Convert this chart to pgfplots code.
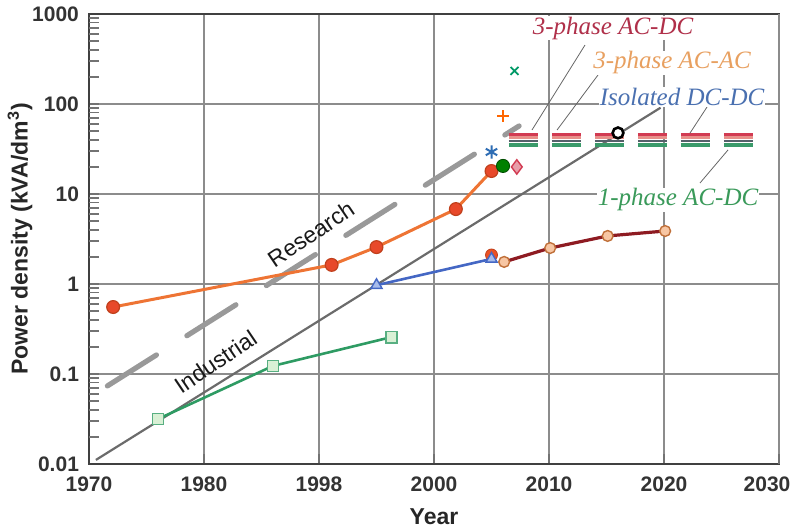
\documentclass[border=0pt]{standalone}
\usepackage{fontspec}
\setmainfont{Liberation Sans}
\newfontfamily\annfont{Liberation Serif}
\usepackage{pgfplots}
\pgfplotsset{compat=1.18}
\usetikzlibrary{calc}

\definecolor{resorange}{HTML}{EE7434}
\definecolor{resfill}{HTML}{E8492A}
\definecolor{resedge}{HTML}{C0401C}
\definecolor{grn}{HTML}{2E9B63}
\definecolor{grnfill}{HTML}{D9F0D5}
\definecolor{blu}{HTML}{4467C4}
\definecolor{blufill}{HTML}{A8BCEB}
\definecolor{dred}{HTML}{8E1B22}
\definecolor{peach}{HTML}{F7C6A3}
\definecolor{peachedge}{HTML}{C0703A}
\definecolor{labred}{HTML}{B0304A}
\definecolor{laborange}{HTML}{E8A060}
\definecolor{labblue}{HTML}{4A70B0}
\definecolor{labgreen}{HTML}{3A9A5A}
\definecolor{dashred}{HTML}{D23B52}
\definecolor{dashpink}{HTML}{E8908A}
\definecolor{dashgray}{HTML}{55606A}
\definecolor{dashgreen}{HTML}{3A9A6A}
\definecolor{astblue}{HTML}{2E6DB4}

\newcommand{\tl}[1]{\textbf{#1}}

\begin{document}
\begin{tikzpicture}
\begin{axis}[
  name=ax,
  scale only axis,
  width=345pt, height=225pt,
  xmin=1970, xmax=2030,
  ymode=log, ymin=0.01, ymax=1000,
  xtick={1970,1980,1990,2000,2010,2020},
  xticklabels={\tl{1970},\tl{1980},\tl{1998},\tl{2000},\tl{2010},\tl{2020}},
  extra x ticks={2030},
  extra x tick labels={\tl{2030}},
  extra x tick style={xticklabel style={xshift=-6pt}},
  ytick={0.01,0.1,1,10,100,1000},
  yticklabels={\tl{0.01},\tl{0.1},\tl{1},\tl{10},\tl{100},\tl{1000}},
  grid=major,
  major grid style={color=black!45, line width=0.6pt},
  axis line style={line width=1.2pt, color=black!75},
  tick label style={font=\fontsize{10.5}{12}\selectfont, color=black!80},
  xticklabel style={yshift=-3pt},
  yticklabel style={xshift=-1.5pt},
  ytick pos=left,
  xtick pos=bottom,
  tick align=inside,
  tick style={color=black!55, line width=0.7pt},
  major tick length=5pt,
  xlabel={\textbf{Year}},
  ylabel={\textbf{Power density (kVA/dm\textsuperscript{3})}},
  xlabel style={at={(axis description cs:0.5,-0.118)}, anchor=center, font=\fontsize{11.5}{13}\selectfont, color=black!85},
  ylabel style={at={(axis description cs:-0.1,0.5)}, anchor=center, font=\fontsize{11.5}{13}\selectfont, color=black!85},
  clip=false,
]

% minor decade stubs along the left edge
\pgfplotsinvokeforeach{0.02,0.03,0.04,0.05,0.06,0.07,0.08,0.09,
    0.2,0.3,0.4,0.5,0.6,0.7,0.8,0.9,2,3,4,5,6,7,8,9,
    20,30,40,50,60,70,80,90,200,300,400,500,600,700,800,900}{
  \draw[black!55, line width=0.7pt] (axis cs:1970,#1) -- ++(5pt,0pt);
}

% trend lines
\addplot[color=black!40, line width=2.6pt, dash pattern=on 29pt off 18pt, line cap=round]
  coordinates {(1971.6,0.0737) (2007.4,57)};
\addplot[color=black!58, line width=1.1pt]
  coordinates {(1970.6,0.0111) (2019.7,91)};

% horizontal targets
\addplot[color=dashred, line width=1.6pt, dash pattern=on 14.5pt off 7pt]
  coordinates {(2006.5,46.0) (2027.74,46.0)};
\addplot[color=dashpink, line width=1.2pt, dash pattern=on 14.5pt off 7pt]
  coordinates {(2006.5,42.3) (2027.74,42.3)};
\addplot[color=dashgray, line width=1.2pt, dash pattern=on 14.5pt off 7pt]
  coordinates {(2006.5,38.6) (2027.74,38.6)};
\addplot[color=dashgreen, line width=1.6pt, dash pattern=on 14.5pt off 7pt]
  coordinates {(2006.5,35.0) (2027.74,35.0)};

% 1-phase industrial
\addplot[color=grn, line width=1.3pt, mark=square*, mark size=2.8pt,
  mark options={fill=grnfill, draw=grn!80!white, line width=0.8pt}]
  coordinates {(1976,0.0316) (1986,0.123) (1996.3,0.257)};

% research
\addplot[color=resorange, line width=1.5pt, mark=*, mark size=3.2pt,
  mark options={fill=resfill, draw=resedge, line width=0.6pt}]
  coordinates {(1972.1,0.555) (1991.1,1.63) (1995,2.57) (2001.9,6.8) (2005,18)};

% single points
\addplot[only marks, mark=*, mark size=3pt, mark options={fill=resfill!85!orange, draw=resedge}]
  coordinates {(2005,2.1)};
\addplot[color=blu, line width=1.3pt, mark=triangle*, mark size=3.2pt,
  mark options={fill=blufill, draw=blu, line width=0.7pt}]
  coordinates {(1995,0.97) (2005,1.9)};
\addplot[color=dred, line width=1.6pt, mark=*, mark size=2.7pt,
  mark options={fill=peach, draw=peachedge, line width=0.7pt}]
  coordinates {(2006.1,1.76) (2010.1,2.51) (2015.1,3.42) (2020.1,3.88)};

\addplot[only marks, mark=asterisk, mark size=3.3pt, color=astblue, line width=1pt]
  coordinates {(2005,29.3)};
\addplot[only marks, mark=+, mark size=3pt, color=orange!80!red, line width=0.9pt]
  coordinates {(2006,73)};
\addplot[only marks, mark=x, mark size=2.8pt, color=teal!80!green, line width=0.9pt]
  coordinates {(2007,233)};
\addplot[only marks, mark=*, mark size=3.3pt, mark options={fill=green!50!black, draw=green!30!black}]
  coordinates {(2006,20.5)};
\addplot[only marks, mark=diamond*, mark size=3.6pt, mark options={fill=dashred!50!white, draw=dashred, line width=0.7pt}]
  coordinates {(2007.2,20)};
\addplot[only marks, mark=*, mark size=2.7pt, mark options={fill=white, draw=black, line width=1.3pt}]
  coordinates {(2016,47.7)};

% callout leaders
\draw[black!60, line width=0.4pt] (axis cs:2013.13,452) -- (axis cs:2008.52,51.4);
\draw[black!60, line width=0.4pt] (axis cs:2014.26,210) -- (axis cs:2010.7,51.4);
\draw[black!60, line width=0.4pt] (axis cs:2023.74,92.6) -- (axis cs:2022.26,47.5);
\draw[black!60, line width=0.4pt] (axis cs:2023.13,13.25) -- (axis cs:2025.57,30.9);

% callout texts
\node[font=\annfont\itshape\fontsize{12.5}{14}\selectfont, color=labred, fill=white, inner sep=0.5pt] at (axis cs:2015.57,699) {3-phase AC-DC};
\node[font=\annfont\itshape\fontsize{12.5}{14}\selectfont, color=laborange, fill=white, inner sep=0.5pt] at (axis cs:2020.7,285.6) {3-phase AC-AC};
\node[font=\annfont\itshape\fontsize{12.5}{14}\selectfont, color=labblue, fill=white, inner sep=0.5pt] at (axis cs:2021.57,119.6) {Isolated DC-DC};
\node[font=\annfont\itshape\fontsize{12.5}{14}\selectfont, color=labgreen, fill=white, inner sep=0.5pt] at (axis cs:2021.22,8.58) {1-phase AC-DC};

% trend names
\node[rotate=34, font=\fontsize{11.5}{13}\selectfont, color=black!90] at (axis cs:1989.3,3.6) {Research};
\node[rotate=34, font=\fontsize{11.5}{13}\selectfont, color=black!90] at (axis cs:1981.0,0.137) {Industrial};
\end{axis}
\pgfresetboundingbox
\path ($(ax.south west)+(-44.5pt,-32pt)$) rectangle ($(ax.north east)+(8pt,7pt)$);
\end{tikzpicture}
\end{document}
